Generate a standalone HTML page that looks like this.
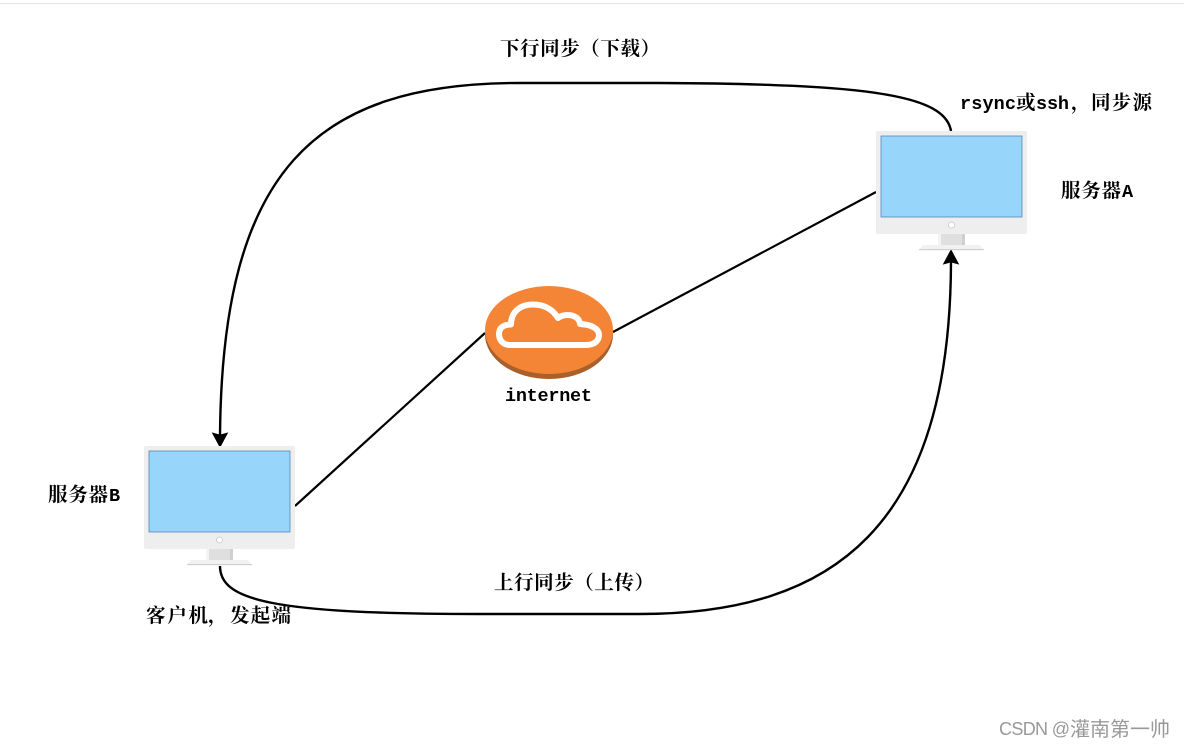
<!DOCTYPE html>
<html>
<head>
<meta charset="utf-8">
<style>
html,body{margin:0;padding:0;background:#fff;}
body{width:1184px;height:747px;overflow:hidden;}
svg{display:block;}
.z{font-family:"Liberation Mono","Noto Serif CJK SC",serif;font-weight:700;font-size:18.5px;fill:#000;}
.c{font-family:"Noto Serif CJK SC",serif;font-weight:700;font-size:19.5px;fill:#000;}
.w{font-family:"Liberation Sans","Noto Sans CJK SC",sans-serif;font-size:18px;fill:#999;}
.wc{font-family:"Noto Sans CJK SC",sans-serif;font-size:20px;fill:#999;}
</style>
</head>
<body>
<svg width="1184" height="747" viewBox="0 0 1184 747" xmlns="http://www.w3.org/2000/svg">
<defs>
<g id="mon">
<rect x="0" y="0" width="151" height="103" rx="2" fill="#eeeeee"/>
<rect x="5" y="5" width="141" height="81" fill="#97d5fb" stroke="#5b85b5" stroke-width="0.8"/>
<circle cx="75.500" cy="94" r="3" fill="#fff" stroke="#c8c8c8" stroke-width="0.8"/>
<rect x="62" y="103" width="27" height="12" fill="#f4f4f4"/>
<rect x="65" y="103" width="21" height="12" fill="#dfdfdf"/>
<rect x="86" y="103" width="3" height="12" fill="#cfcfcf"/>
<path d="M43 119 L47 114 H104 L108 119 Z" fill="#f1f1f1"/>
<rect x="43" y="118" width="65" height="1.200" fill="#cfcfcf"/>
</g>
</defs>
<rect x="0" y="3" width="1184" height="1" fill="#e4e4e4"/>

<path d="M876 192 L613 332" fill="none" stroke="#000" stroke-width="2.200"/>
<path d="M485 333 L295 506" fill="none" stroke="#000" stroke-width="2.200"/>

<path d="M951 131 C945 95 870 84 660 83 L520 83 C315 83 222 170 220 436" fill="none" stroke="#000" stroke-width="2.400"/>
<path d="M220 447 L212.500 433 L220 435 L227.500 433 Z" fill="#000" stroke="#000" stroke-width="0.800"/>
<path d="M220 566 C220 600 270 614 480 614 L640 614 C835 614 950 525 951 262" fill="none" stroke="#000" stroke-width="2.400"/>
<path d="M951 250 L958.500 264 L951 262 L943.500 264 Z" fill="#000" stroke="#000" stroke-width="0.800"/>

<use href="#mon" x="876" y="131"/>
<use href="#mon" x="144" y="446"/>

<ellipse cx="549" cy="334.500" rx="64" ry="44.500" fill="#a9602a"/>
<ellipse cx="549" cy="330" rx="64" ry="44" fill="#f58536"/>
<path d="M510 345 C502 345 499 339 499 334 C499 328 503 324.500 511 324.500 C511 312 520 304.500 533 304.500 C545 304.500 553 310 558 318 C563 314 572 314 577 318 C579 320 580 322 580 324 C592 324.500 599 329 599 335 C599 341 594 345 586 345 Z" fill="none" stroke="#fff" stroke-width="6" stroke-linejoin="round"/>

<text class="c" x="500" y="55" textLength="160">下行同步（下载）</text>
<text class="z" x="960" y="109" textLength="56">rsync</text>
<text class="c" x="1016" y="109">或</text>
<text class="z" x="1036" y="109" textLength="33">ssh</text>
<text class="c" x="1071" y="109">，</text>
<text class="c" x="1091" y="109" textLength="61">同步源</text>
<text class="c" x="1061" y="197" textLength="60">服务器</text>
<text class="z" x="1122" y="197">A</text>
<text class="z" x="505" y="401" textLength="87">internet</text>
<text class="c" x="48" y="501" textLength="60">服务器</text>
<text class="z" x="109" y="501">B</text>
<text class="c" x="494" y="589" textLength="160">上行同步（上传）</text>
<text class="c" x="146" y="622" textLength="62">客户机</text>
<text class="c" x="208" y="622">，</text>
<text class="c" x="230" y="622" textLength="61">发起端</text>
<text class="w" x="999" y="735" textLength="71">CSDN @</text>
<text class="wc" x="1070" y="736" textLength="100">灌南第一帅</text>
</svg>
</body>
</html>
